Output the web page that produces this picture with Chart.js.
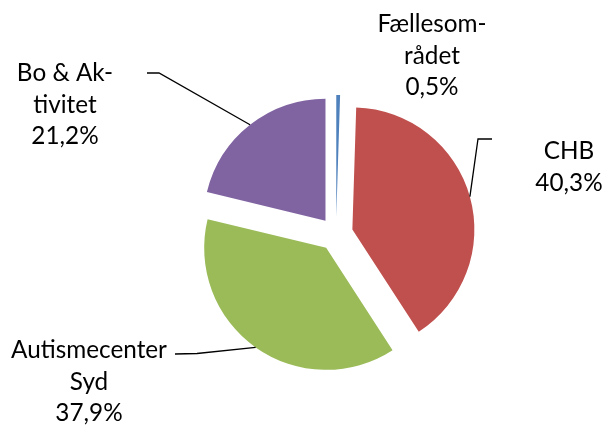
<!DOCTYPE html>
<html>
<head>
<meta charset="utf-8">
<script src="https://cdn.jsdelivr.net/npm/chart.js@4"></script>
<style>
  html, body { margin: 0; padding: 0; background: #fff; }
  #wrap { width: 604px; height: 428px; }
</style>
</head>
<body>
<div id="wrap"><canvas id="pie"></canvas></div>
<script>
// data
const categories = ['Fællesområdet', 'CHB', 'Autismecenter Syd', 'Bo & Aktivitet'];
const shares = [0.5, 40.3, 37.9, 21.2];
const labelLines = [['Fællesom-', 'rådet'], ['CHB'], ['Autismecenter', 'Syd'], ['Bo & Ak-', 'tivitet']];

const colors = ['#4F81BD', '#C0504D', '#9BBB59', '#8064A2'];

// label placement: centre x, first baseline, leader (elbow, end) or null
const labelPos = [
  { x: 432, y: 32, leader: null },
  { x: 569, y: 159, leader: [[478, 139], [492, 139]] },
  { x: 89, y: 358, leader: [[197, 353.5], [175, 354]] },
  { x: 65, y: 81, leader: [[159, 73], [147, 73]] }
];
const explode = 17;
const lineGap = 31.5;

function pct(v) {
  return v.toFixed(1).replace('.', ',') + '%';
}

// draw each slice pulled out from the centre
const explodePlugin = {
  id: 'explode',
  beforeDatasetDraw(chart, args) {
    const ctx = chart.ctx;
    args.meta.data.forEach(arc => {
      const mid = (arc.startAngle + arc.endAngle) / 2;
      ctx.save();
      ctx.translate(Math.cos(mid) * explode, Math.sin(mid) * explode);
      arc.draw(ctx);
      ctx.restore();
    });
    return false;
  }
};

// labels with leader lines
const labelPlugin = {
  id: 'pieLabels',
  afterDraw(chart) {
    const ctx = chart.ctx;
    const meta = chart.getDatasetMeta(0);
    ctx.save();
    meta.data.forEach((arc, i) => {
      const p = labelPos[i];
      if (p.leader) {
        const mid = (arc.startAngle + arc.endAngle) / 2;
        const r = arc.outerRadius;
        const sx = arc.x + Math.cos(mid) * (r + explode);
        const sy = arc.y + Math.sin(mid) * (r + explode);
        ctx.beginPath();
        ctx.moveTo(sx, sy);
        p.leader.forEach(pt => ctx.lineTo(pt[0], pt[1]));
        ctx.strokeStyle = '#000';
        ctx.lineWidth = 1.3;
        ctx.stroke();
      }
      const lines = labelLines[i].concat([pct(shares[i])]);
      ctx.fillStyle = '#000';
      ctx.font = '24.3px Lato, "Open Sans", sans-serif';
      ctx.textAlign = 'center';
      ctx.textBaseline = 'alphabetic';
      lines.forEach((t, k) => ctx.fillText(t, p.x, p.y + k * lineGap));
    });
    ctx.restore();
  }
};

new Chart(document.getElementById('pie'), {
  type: 'pie',
  data: {
    labels: categories,
    datasets: [{
      data: shares,
      backgroundColor: colors,
      borderWidth: 0
    }]
  },
  options: {
    responsive: true,
    maintainAspectRatio: false,
    animation: false,
    radius: 122,
    layout: { padding: { left: 68, top: 40, right: 0, bottom: 0 } },
    plugins: {
      legend: { display: false },
      tooltip: { enabled: false }
    }
  },
  plugins: [explodePlugin, labelPlugin]
});
</script>
</body>
</html>
